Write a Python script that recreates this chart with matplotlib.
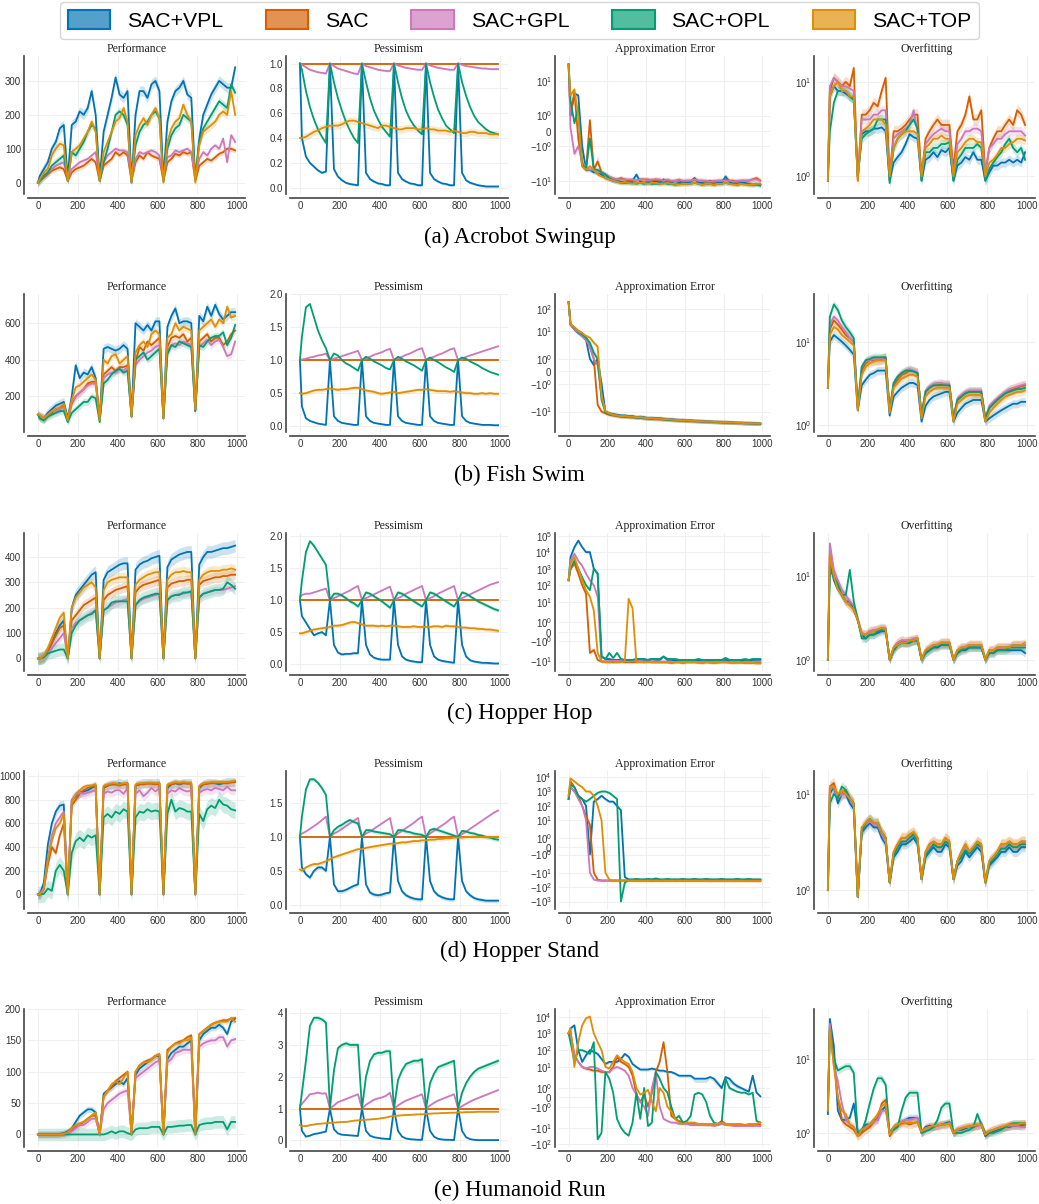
import matplotlib
matplotlib.use('Agg')
import matplotlib.pyplot as plt
import numpy as np
from matplotlib.patches import Patch
from matplotlib.ticker import NullFormatter

plt.rcParams['font.family'] = ['Liberation Sans', 'DejaVu Sans']
plt.rcParams['mathtext.fontset'] = 'custom'
plt.rcParams['mathtext.rm'] = 'Liberation Sans'
plt.rcParams['mathtext.it'] = 'Liberation Sans:italic'
plt.rcParams['mathtext.bf'] = 'Liberation Sans:bold'

methods = ['SAC+VPL', 'SAC', 'SAC+GPL', 'SAC+OPL', 'SAC+TOP']
colors = ['#0173b2', '#d55e00', '#cc78bc', '#029e73', '#de8f05']
titles = ['Performance', 'Pessimism', 'Approximation Error', 'Overfitting']
captions = ['(a) Acrobot Swingup', '(b) Fish Swim', '(c) Hopper Hop', '(d) Hopper Stand', '(e) Humanoid Run']

steps = [0, 10, 30, 50, 70, 90, 110, 130,
         150, 170, 190, 210, 230, 250, 270, 290,
         310, 330, 350, 370, 390, 410, 430, 450,
         470, 490, 510, 530, 550, 570, 590, 610,
         630, 650, 670, 690, 710, 730, 750, 770,
         790, 810, 830, 850, 870, 890, 910, 930, 950, 970, 990]

sac_pess = [1, 1, 1, 1, 1, 1, 1, 1, 1, 1, 1, 1, 1, 1, 1, 1, 1, 1, 1, 1, 1, 1, 1, 1, 1, 1,
            1, 1, 1, 1, 1, 1, 1, 1, 1, 1, 1, 1, 1, 1, 1, 1, 1, 1, 1, 1, 1, 1, 1, 1, 1]

# ---------------- (a) Acrobot Swingup ----------------
perf_a = [
    [0, 20, 40, 60, 100, 120, 160, 170, 10, 170, 180, 210, 200, 220, 270, 200,
     10, 150, 200, 250, 310, 260, 250, 270, 0, 200, 270, 270, 250, 290, 300, 270,
     10, 180, 240, 270, 280, 300, 260, 250, 10, 130, 200, 230, 260, 280, 300, 290, 280, 280, 340],
    [0, 5, 15, 25, 35, 40, 45, 40, 5, 30, 40, 45, 50, 60, 70, 60,
     5, 50, 60, 70, 90, 80, 90, 80, 5, 60, 80, 70, 90, 80, 75, 70,
     5, 60, 70, 85, 80, 90, 85, 90, 5, 50, 60, 70, 65, 75, 85, 90, 100, 100, 95],
    [0, 5, 20, 30, 40, 50, 55, 60, 10, 40, 50, 60, 65, 70, 80, 90,
     10, 60, 80, 90, 100, 95, 95, 90, 10, 70, 90, 85, 90, 95, 90, 80,
     10, 75, 80, 95, 90, 95, 100, 90, 15, 70, 90, 80, 100, 110, 100, 130, 60, 140, 120],
    [0, 5, 20, 30, 50, 60, 70, 80, 5, 90, 80, 100, 120, 150, 170, 160,
     5, 60, 100, 150, 200, 210, 200, 170, 5, 110, 150, 170, 180, 200, 210, 190,
     5, 100, 140, 160, 170, 200, 190, 180, 10, 120, 160, 180, 200, 220, 240, 230, 220, 290, 265],
    [0, 10, 30, 40, 80, 100, 115, 110, 5, 90, 100, 110, 130, 150, 180, 150,
     5, 90, 120, 150, 180, 190, 220, 180, 0, 140, 170, 190, 170, 200, 220, 190,
     0, 120, 160, 180, 190, 230, 200, 180, 0, 110, 150, 160, 170, 180, 200, 210, 200, 270, 200],
]
pess_a = [
    [1.0, 0.4, 0.25, 0.2, 0.17, 0.14, 0.12, 0.13, 1.0, 0.15, 0.09, 0.06, 0.04, 0.03, 0.025, 0.02,
     1.0, 0.12, 0.07, 0.05, 0.035, 0.03, 0.02, 0.02, 1.0, 0.12, 0.07, 0.05, 0.035, 0.03, 0.02, 0.02,
     1.0, 0.12, 0.07, 0.05, 0.035, 0.03, 0.02, 0.02, 1.0, 0.12, 0.06, 0.04, 0.03, 0.02, 0.015, 0.01, 0.01, 0.01, 0.01],
    sac_pess,
    [1.0, 0.99, 0.97, 0.95, 0.94, 0.93, 0.925, 0.92, 1.0, 0.98, 0.96, 0.95, 0.94, 0.93, 0.92, 0.915,
     1.0, 0.98, 0.97, 0.96, 0.95, 0.945, 0.94, 0.94, 1.0, 0.985, 0.975, 0.965, 0.96, 0.955, 0.95, 0.95,
     1.0, 0.985, 0.975, 0.965, 0.96, 0.955, 0.95, 0.95, 1.0, 0.99, 0.98, 0.975, 0.97, 0.965, 0.96, 0.96, 0.955, 0.955, 0.955],
    [1.0, 0.95, 0.78, 0.65, 0.55, 0.47, 0.41, 0.36, 1.0, 0.85, 0.72, 0.62, 0.53, 0.46, 0.4, 0.36,
     1.0, 0.85, 0.72, 0.62, 0.55, 0.49, 0.45, 0.41, 1.0, 0.85, 0.72, 0.62, 0.55, 0.5, 0.46, 0.43,
     1.0, 0.85, 0.73, 0.63, 0.56, 0.5, 0.47, 0.44, 1.0, 0.85, 0.74, 0.65, 0.58, 0.53, 0.5, 0.47, 0.45, 0.44, 0.43],
    [0.4, 0.4, 0.41, 0.43, 0.45, 0.46, 0.48, 0.49, 0.5, 0.5, 0.5, 0.51, 0.53, 0.54, 0.54, 0.53,
     0.52, 0.51, 0.5, 0.49, 0.48, 0.5, 0.5, 0.49, 0.48, 0.47, 0.47, 0.48, 0.48, 0.48, 0.47, 0.47,
     0.48, 0.47, 0.47, 0.46, 0.46, 0.46, 0.45, 0.46, 0.45, 0.44, 0.44, 0.45, 0.45, 0.44, 0.44, 0.44, 0.43, 0.43, 0.43],
]
err_a = [
    [40, 1, 3.5, 3, -1, -4, -4, -5, -5, -6, -8, -9, -10, -10, -11, -11,
     -11, -10, -6, -11, -12, -11, -12, -10, -12, -9, -12, -12, -13, -12, -12, -12,
     -11, -8, -12, -12, -13, -12, -13, -12, -12, -7, -11, -12, -13, -12, -12, -13, -14, -13, -14],
    [40, 1, 4, -0.5, -3, -4, 0.7, -4, -2, -5, -6, -8, -9, -9, -8, -9,
     -10, -10, -10, -9, -9, -9, -10, -9, -10, -10, -10, -11, -10, -10, -11, -10,
     -10, -9, -10, -10, -11, -10, -11, -10, -10, -9, -10, -10, -11, -10, -10, -10, -9, -8, -10],
    [40, 0.2, -1.5, -1, -2, -3.5, -4, -4, -5, -5, -6, -7, -8, -9, -9, -9,
     -9, -9, -10, -9, -9, -10, -9, -9, -9, -10, -9, -10, -10, -9, -10, -10,
     -10, -9, -10, -10, -10, -11, -10, -10, -10, -10, -10, -11, -10, -10, -10, -10, -9, -9, -10],
    [40, 2, 0.5, 1.5, -2.5, -4, -0.5, -4, -4, -5, -6, -8, -10, -11, -12, -12,
     -12, -12, -13, -12, -13, -12, -13, -13, -13, -12, -13, -13, -14, -13, -13, -13,
     -13, -12, -13, -14, -13, -13, -14, -13, -13, -12, -13, -13, -14, -13, -13, -14, -14, -14, -15],
    [40, 3, 5, 1, -3, -4, -3, -4, -6, -7, -8, -9, -10, -11, -12, -11,
     -12, -13, -12, -12, -12, -13, -12, -12, -13, -13, -12, -13, -13, -14, -13, -13,
     -13, -12, -13, -14, -13, -13, -14, -13, -13, -12, -13, -14, -14, -13, -14, -14, -14, -13, -13],
]
over_a = [
    [0.9, 7, 9, 8, 8, 7.5, 7, 6.5, 1, 2.8, 3, 3, 3.2, 3.2, 3.3, 3,
     0.9, 1.4, 1.6, 1.8, 2.2, 2.8, 2.6, 2.5, 0.9, 1.5, 1.6, 1.8, 1.6, 1.9, 1.8, 2,
     0.9, 1.3, 1.4, 1.6, 1.5, 1.8, 1.5, 1.5, 0.9, 1.1, 1.3, 1.3, 1.4, 1.4, 1.5, 1.4, 1.5, 1.4, 1.8],
    [0.9, 8, 11, 10, 9, 10, 9, 14, 0.9, 4.5, 4.5, 5, 6, 5.5, 8, 11,
     1, 3, 3, 3.2, 3.5, 4, 4.5, 4.5, 1, 2.5, 3, 3.5, 4, 3.5, 3.5, 3.5,
     1.2, 3, 3.5, 4.5, 7, 4, 4, 5, 1.1, 2, 2.5, 3, 3, 3.5, 4, 3.5, 5, 4.5, 3.5],
    [0.9, 9, 11, 10, 9, 9, 8.5, 8, 1, 4, 4, 4, 4.5, 4.5, 5, 5,
     1, 2.5, 2.8, 3, 3.2, 3.5, 5, 3, 1, 2.2, 2.5, 2.8, 3, 3.2, 3, 3,
     1, 2.2, 2.5, 3, 3, 3.2, 3.2, 3, 1.1, 2, 2.2, 2.5, 2.5, 2.8, 3, 3, 3, 3, 2.7],
    [0.9, 3, 6, 8, 8, 8, 7, 6.5, 1, 2.5, 2.8, 3, 3.2, 4, 4, 4,
     0.85, 2, 2.5, 2.8, 3, 3.5, 4, 3.2, 0.9, 1.8, 1.8, 2, 2, 2.2, 2.2, 2.3,
     0.9, 1.5, 1.7, 2, 2, 2, 2.2, 2, 0.9, 1.2, 1.4, 1.6, 1.8, 2.2, 2.5, 2, 1.8, 2, 1.5],
    [0.9, 7, 9, 10, 8, 8, 7, 7, 0.9, 3, 3.2, 3.5, 4, 4, 4, 3.5,
     1, 2, 2.5, 2.8, 3, 3, 3, 2.8, 1, 2, 2.2, 2.5, 2.5, 2.7, 2.5, 2.5,
     1, 1.8, 2, 2.3, 2.5, 2.5, 2.3, 2.3, 1, 1.4, 1.5, 1.7, 2, 2, 2.2, 2.3, 2.5, 2.5, 2.4],
]

# ---------------- (b) Fish Swim ----------------
perf_b = [
    [100, 90, 80, 110, 130, 150, 160, 170, 80, 200, 370, 300, 330, 320, 360, 300,
     80, 460, 470, 460, 450, 460, 480, 460, 100, 600, 580, 560, 590, 560, 610, 610,
     90, 580, 640, 680, 600, 610, 610, 600, 120, 640, 610, 690, 640, 700, 650, 620, 640, 660, 660],
    [100, 90, 80, 100, 110, 130, 130, 150, 70, 160, 200, 220, 240, 270, 280, 280,
     70, 320, 340, 360, 340, 360, 360, 370, 90, 390, 470, 450, 500, 480, 500, 520,
     80, 470, 520, 530, 520, 540, 500, 520, 130, 500, 520, 540, 500, 520, 520, 480, 500, 540, 560],
    [100, 90, 80, 100, 120, 120, 130, 140, 70, 170, 200, 220, 240, 260, 270, 270,
     70, 300, 320, 330, 330, 350, 340, 360, 90, 370, 400, 420, 440, 450, 470, 480,
     80, 450, 480, 490, 480, 500, 490, 480, 120, 470, 490, 510, 480, 500, 510, 470, 420, 430, 500],
    [100, 80, 70, 90, 100, 110, 120, 120, 60, 110, 130, 150, 170, 170, 200, 190,
     60, 270, 290, 320, 340, 350, 330, 340, 90, 400, 420, 440, 400, 420, 440, 460,
     80, 430, 480, 470, 500, 490, 480, 470, 120, 480, 470, 500, 520, 530, 530, 550, 480, 520, 590],
    [100, 100, 80, 100, 120, 130, 140, 160, 70, 180, 250, 260, 280, 300, 320, 290,
     70, 400, 380, 420, 430, 380, 400, 420, 90, 440, 480, 500, 470, 540, 560, 540,
     80, 520, 540, 600, 560, 580, 570, 560, 130, 560, 580, 600, 620, 580, 620, 600, 690, 630, 640],
]
pess_b = [
    [1.0, 0.3, 0.12, 0.08, 0.06, 0.04, 0.03, 0.02, 1.0, 0.15, 0.08, 0.05, 0.04, 0.03, 0.02, 0.02,
     1.0, 0.15, 0.08, 0.05, 0.04, 0.03, 0.02, 0.02, 1.0, 0.15, 0.08, 0.05, 0.04, 0.03, 0.02, 0.02,
     1.0, 0.15, 0.08, 0.05, 0.04, 0.03, 0.02, 0.02, 1.0, 0.15, 0.08, 0.05, 0.04, 0.03, 0.02, 0.02, 0.02, 0.015, 0.015],
    sac_pess,
    [1.0, 1.01, 1.02, 1.04, 1.05, 1.07, 1.08, 1.1, 1.0, 1.02, 1.04, 1.06, 1.08, 1.1, 1.12, 1.14,
     1.0, 1.03, 1.05, 1.08, 1.1, 1.12, 1.15, 1.17, 1.0, 1.03, 1.05, 1.08, 1.1, 1.13, 1.16, 1.18,
     1.0, 1.03, 1.05, 1.08, 1.1, 1.13, 1.16, 1.18, 1.0, 1.02, 1.05, 1.07, 1.09, 1.11, 1.13, 1.15, 1.17, 1.19, 1.21],
    [1.0, 1.35, 1.8, 1.85, 1.65, 1.45, 1.3, 1.18, 1.0, 1.1, 1.07, 1.0, 0.95, 0.92, 0.88, 0.84,
     1.0, 1.05, 1.02, 0.98, 0.95, 0.92, 0.88, 0.86, 1.0, 1.05, 1.02, 0.98, 0.95, 0.92, 0.88, 0.84,
     1.0, 1.04, 1.0, 0.97, 0.93, 0.89, 0.86, 0.82, 1.0, 1.04, 1.02, 0.98, 0.95, 0.92, 0.88, 0.85, 0.82, 0.8, 0.78],
    [0.5, 0.49, 0.5, 0.52, 0.54, 0.55, 0.55, 0.56, 0.57, 0.56, 0.55, 0.56, 0.56, 0.57, 0.58, 0.58,
     0.56, 0.54, 0.53, 0.52, 0.5, 0.49, 0.5, 0.51, 0.52, 0.5, 0.51, 0.52, 0.53, 0.54, 0.55, 0.55,
     0.56, 0.55, 0.54, 0.53, 0.53, 0.53, 0.52, 0.53, 0.52, 0.51, 0.5, 0.5, 0.49, 0.49, 0.5, 0.49, 0.5, 0.49, 0.49],
]
err_b = [
    [200, 20, 12, 8, 6, 4, 1, 0.5, 1, -1, -10, -12, -13, -14, -15, -15,
     -16, -16, -18, -17, -18, -20, -19, -20, -20, -21, -22, -22, -23, -24, -24, -25,
     -25, -26, -26, -27, -28, -28, -29, -29, -30, -30, -31, -31, -32, -32, -33, -33, -34, -34, -35],
    [200, 20, 12, 10, 8, 4, 2, 1, -5, -10, -12, -14, -15, -16, -17, -17,
     -18, -18, -19, -19, -20, -21, -21, -22, -22, -23, -23, -24, -25, -25, -26, -26,
     -27, -27, -28, -28, -29, -29, -30, -30, -31, -31, -32, -32, -33, -33, -34, -34, -35, -35, -36],
    [200, 18, 12, 9, 6, 4, 2, 1, 0.5, -2, -10, -12, -14, -15, -16, -16,
     -17, -17, -18, -18, -19, -20, -20, -21, -21, -22, -22, -23, -24, -24, -25, -25,
     -26, -26, -27, -27, -28, -28, -29, -29, -30, -30, -31, -31, -32, -32, -33, -33, -34, -34, -35],
    [200, 20, 14, 10, 7, 5, 3, 1.5, 1, -3, -11, -13, -14, -15, -16, -17,
     -17, -18, -18, -19, -20, -20, -21, -21, -22, -22, -23, -24, -24, -25, -25, -26,
     -26, -27, -27, -28, -28, -29, -29, -30, -30, -31, -31, -32, -32, -33, -33, -34, -34, -35, -35],
    [200, 20, 15, 10, 8, 6, 5, 3, 2, -2, -10, -12, -14, -15, -16, -16,
     -17, -17, -18, -18, -19, -20, -20, -21, -21, -22, -22, -23, -24, -24, -25, -25,
     -26, -26, -27, -27, -28, -28, -29, -29, -30, -30, -31, -31, -32, -32, -33, -33, -34, -34, -35],
]
over_b = [
    [2.8, 10, 12, 11, 10, 9, 8, 7, 1.5, 3, 3.5, 4, 4.2, 4.5, 4.5, 4.5,
     1.3, 2.2, 2.5, 2.8, 3, 3.2, 3.2, 3, 1.1, 1.7, 2, 2.2, 2.3, 2.4, 2.5, 2.5,
     1.1, 1.4, 1.6, 1.8, 1.9, 2, 2, 2, 1.1, 1.2, 1.3, 1.4, 1.5, 1.6, 1.7, 1.8, 1.8, 1.9, 1.9],
    [2.8, 14, 18, 16, 14, 12, 11, 10, 1.6, 4.5, 5.5, 6, 6, 6, 6.2, 6.5,
     1.5, 3, 3.5, 4, 4.2, 4.5, 4.4, 4.2, 1.3, 2.5, 2.8, 3, 3, 3.1, 3, 3,
     1.2, 2, 2.2, 2.4, 2.5, 2.5, 2.5, 2.5, 1.2, 1.6, 1.8, 2, 2.2, 2.4, 2.6, 2.7, 2.8, 2.9, 3],
    [2.8, 16, 20, 18, 15, 13, 11, 10, 1.6, 5, 5.8, 6, 6.2, 6.2, 6.3, 6.5,
     1.5, 3.2, 3.8, 4.2, 4.5, 4.7, 4.5, 4.3, 1.3, 2.6, 2.9, 3.1, 3.2, 3.2, 3.1, 3.1,
     1.2, 2.1, 2.3, 2.5, 2.6, 2.6, 2.6, 2.6, 1.2, 1.7, 1.9, 2.1, 2.3, 2.5, 2.7, 2.8, 2.9, 3, 3.1],
    [2.8, 20, 28, 24, 18, 15, 13, 11, 1.6, 5, 6, 6.2, 6.5, 6.5, 6.5, 6.5,
     1.5, 3.2, 3.8, 4.2, 4.5, 4.5, 4.4, 4.2, 1.3, 2.5, 2.8, 3, 3, 3, 3, 3,
     1.2, 2, 2.2, 2.4, 2.5, 2.5, 2.5, 2.5, 1.2, 1.6, 1.8, 2, 2.2, 2.4, 2.5, 2.6, 2.7, 2.7, 2.8],
    [2.8, 12, 15, 14, 12, 11, 10, 9, 1.5, 4, 5, 5.5, 5.8, 6, 6, 6,
     1.4, 2.8, 3.2, 3.6, 3.8, 4, 4, 3.8, 1.2, 2.2, 2.5, 2.7, 2.8, 2.8, 2.8, 2.8,
     1.1, 1.8, 2, 2.2, 2.3, 2.3, 2.3, 2.3, 1.1, 1.4, 1.6, 1.8, 2, 2.2, 2.3, 2.4, 2.5, 2.5, 2.6],
]

# ---------------- (c) Hopper Hop ----------------
perf_c = [
    [0, 0, 5, 30, 60, 100, 130, 150, 0, 200, 250, 270, 290, 310, 330, 340,
     0, 310, 340, 350, 360, 370, 375, 375, 0, 350, 370, 380, 385, 395, 400, 405,
     0, 360, 390, 400, 410, 415, 420, 420, 0, 370, 400, 420, 420, 425, 430, 435, 435, 440, 445],
    [0, 0, 5, 30, 60, 90, 120, 130, 0, 150, 170, 190, 210, 220, 230, 240,
     0, 230, 250, 260, 270, 275, 280, 285, 0, 260, 280, 290, 295, 300, 305, 310,
     0, 280, 295, 300, 305, 305, 310, 310, 0, 290, 305, 310, 315, 320, 320, 325, 325, 330, 330],
    [0, 0, 5, 20, 40, 60, 80, 100, 0, 120, 140, 150, 160, 170, 180, 190,
     0, 190, 200, 210, 220, 225, 230, 235, 0, 210, 225, 235, 240, 245, 250, 255,
     0, 230, 245, 250, 255, 255, 260, 260, 0, 240, 255, 260, 265, 270, 270, 270, 275, 280, 285],
    [0, 0, 5, 20, 25, 30, 35, 35, 0, 100, 130, 150, 160, 170, 175, 190,
     0, 190, 200, 220, 225, 225, 225, 225, 0, 210, 230, 240, 245, 250, 255, 255,
     0, 230, 245, 250, 250, 260, 260, 265, 0, 240, 255, 260, 265, 270, 270, 275, 300, 290, 275],
    [0, 0, 10, 40, 80, 120, 160, 180, 0, 200, 240, 260, 280, 290, 300, 280,
     0, 270, 300, 310, 315, 320, 320, 320, 0, 290, 310, 320, 330, 335, 340, 340,
     0, 310, 330, 340, 340, 345, 340, 340, 0, 310, 330, 340, 345, 345, 345, 350, 350, 355, 350],
]
pess_c = [
    [1.0, 0.75, 0.65, 0.55, 0.45, 0.48, 0.5, 0.45, 1.0, 0.3, 0.18, 0.15, 0.16, 0.16, 0.17, 0.17,
     1.0, 0.3, 0.15, 0.1, 0.08, 0.07, 0.07, 0.07, 1.0, 0.3, 0.12, 0.07, 0.05, 0.04, 0.03, 0.03,
     1.0, 0.3, 0.12, 0.07, 0.05, 0.04, 0.03, 0.02, 1.0, 0.3, 0.12, 0.06, 0.04, 0.03, 0.02, 0.02, 0.015, 0.01, 0.01],
    sac_pess,
    [1.05, 1.08, 1.1, 1.1, 1.12, 1.14, 1.16, 1.18, 1.0, 1.03, 1.06, 1.09, 1.12, 1.15, 1.19, 1.22,
     1.0, 1.03, 1.06, 1.09, 1.12, 1.15, 1.18, 1.21, 1.0, 1.03, 1.06, 1.1, 1.13, 1.16, 1.19, 1.22,
     1.0, 1.03, 1.06, 1.1, 1.13, 1.16, 1.19, 1.22, 1.0, 1.03, 1.06, 1.09, 1.12, 1.15, 1.18, 1.21, 1.24, 1.26, 1.28],
    [1.0, 1.3, 1.75, 1.92, 1.85, 1.75, 1.65, 1.55, 1.0, 1.1, 1.1, 1.07, 1.03, 0.98, 0.95, 0.9,
     1.0, 1.12, 1.1, 1.06, 1.02, 0.98, 0.93, 0.88, 1.0, 1.12, 1.1, 1.06, 1.02, 0.98, 0.94, 0.9,
     1.0, 1.12, 1.1, 1.06, 1.02, 0.98, 0.94, 0.9, 1.0, 1.12, 1.1, 1.06, 1.02, 0.98, 0.95, 0.92, 0.89, 0.86, 0.84],
    [0.48, 0.48, 0.5, 0.52, 0.54, 0.55, 0.56, 0.57, 0.58, 0.6, 0.6, 0.61, 0.63, 0.65, 0.66, 0.64,
     0.62, 0.6, 0.6, 0.6, 0.59, 0.6, 0.59, 0.6, 0.6, 0.59, 0.58, 0.58, 0.58, 0.59, 0.58, 0.58,
     0.58, 0.58, 0.59, 0.59, 0.58, 0.6, 0.59, 0.59, 0.58, 0.57, 0.57, 0.56, 0.56, 0.55, 0.55, 0.54, 0.54, 0.53, 0.52],
]
err_c = [
    [200, 5000, 20000, 50000, 20000, 10000, 10000, 1000, 500, -5, -7, -7, -8, -8, -8, -8,
     -8, -8, -8, -7, -8, -8, -7, -8, -8, -5, -8, -8, -9, -9, -9, -9,
     -9, -9, -8, -9, -9, -9, -9, -9, -9, -8, -9, -9, -9, -9, -8, -9, -8, -8, -8],
    [200, 1000, 2000, 500, 100, 30, -3, -2, -8, -10, -10, -11, -11, -11, -10, -11,
     -11, -11, -11, -10, -11, -10, -11, -11, -11, -11, -11, -12, -11, -11, -12, -11,
     -11, -11, -11, -12, -11, -11, -12, -11, -11, -11, -11, -12, -11, -11, -12, -12, -12, -12, -12],
    [200, 3000, 8000, 3000, 1500, 500, 200, 100, 20, -10, -10, -9, -9, -9, -9, -9,
     -10, -9, -9, -10, -10, -9, -10, -10, -10, -10, -10, -10, -11, -10, -10, -10,
     -10, -10, -11, -10, -10, -11, -10, -10, -10, -10, -11, -10, -10, -11, -10, -10, -11, -10, -10],
    [200, 1000, 3000, 1000, 300, 100, 50, 1000, 500, -5, -7, -3, -6, -3, -7, -8,
     -8, -8, -7, -7, -7, -8, -7, -7, -7, -5, -7, -7, -7, -8, -8, -8,
     -8, -8, -7, -8, -8, -8, -8, -8, -8, -6, -8, -8, -8, -8, -7, -8, -7, -7, -7],
    [200, 2000, 5000, 1000, 200, 50, 20, 3, -3, -10, -11, -11, -10, -11, -11, -10,
     15, 4, -11, -11, -11, -11, -11, -11, -11, -11, -11, -12, -11, -11, -12, -11,
     -11, -11, -12, -12, -11, -12, -12, -12, -11, -11, -12, -12, -12, -12, -12, -12, -12, -13, -13],
]
over_c = [
    [1, 15, 9, 7, 6, 5, 5, 4, 3, 2, 1.8, 2, 2, 2.1, 2.2, 2.2,
     1, 1.3, 1.5, 1.6, 1.6, 1.6, 1.7, 1.7, 1, 1.2, 1.3, 1.4, 1.4, 1.5, 1.5, 1.5,
     1, 1.2, 1.3, 1.3, 1.4, 1.4, 1.4, 1.4, 1, 1.2, 1.2, 1.3, 1.3, 1.3, 1.3, 1.3, 1.3, 1.3, 1.2],
    [1, 20, 10, 8, 6, 5, 4.5, 4, 3, 2, 2, 2.2, 2.2, 2.3, 2.4, 2.3,
     1, 1.4, 1.6, 1.7, 1.6, 1.7, 1.7, 1.8, 1, 1.3, 1.4, 1.5, 1.5, 1.6, 1.6, 1.6,
     1, 1.3, 1.4, 1.4, 1.5, 1.5, 1.5, 1.5, 1, 1.3, 1.3, 1.4, 1.4, 1.4, 1.4, 1.5, 1.5, 1.5, 1.5],
    [1, 25, 12, 9, 7, 6, 5, 4.5, 3, 2.1, 2, 2.2, 2.3, 2.3, 2.4, 2.4,
     1, 1.4, 1.6, 1.7, 1.7, 1.7, 1.8, 1.8, 1, 1.3, 1.4, 1.5, 1.5, 1.6, 1.6, 1.6,
     1, 1.3, 1.4, 1.4, 1.5, 1.5, 1.5, 1.5, 1, 1.3, 1.3, 1.4, 1.4, 1.4, 1.4, 1.5, 1.5, 1.5, 1.5],
    [1, 12, 10, 8, 6, 6, 12, 5, 3, 1.8, 1.8, 2, 2, 2.2, 2.3, 2.3,
     1, 1.3, 1.5, 1.6, 1.6, 1.6, 1.7, 1.7, 1, 1.2, 1.3, 1.4, 1.5, 1.5, 1.5, 1.5,
     1, 1.2, 1.3, 1.4, 1.4, 1.4, 1.4, 1.4, 1, 1.2, 1.2, 1.3, 1.3, 1.3, 1.4, 1.4, 1.4, 1.4, 1.4],
    [1, 18, 10, 7, 6, 5, 4.5, 4, 3, 2, 2, 2.1, 2.2, 2.3, 2.4, 2.3,
     1, 1.4, 1.5, 1.6, 1.6, 1.7, 1.7, 1.8, 1, 1.3, 1.4, 1.5, 1.5, 1.6, 1.6, 1.6,
     1, 1.3, 1.4, 1.4, 1.5, 1.5, 1.5, 1.5, 1, 1.3, 1.3, 1.4, 1.4, 1.4, 1.4, 1.5, 1.5, 1.5, 1.6],
]

# ---------------- (d) Hopper Stand ----------------
perf_d = [
    [0, 0, 100, 420, 600, 700, 750, 760, 0, 800, 830, 860, 870, 880, 900, 920,
     0, 900, 920, 930, 930, 940, 930, 940, 0, 920, 930, 940, 940, 940, 940, 940,
     0, 900, 930, 940, 930, 940, 940, 940, 0, 900, 930, 940, 940, 940, 930, 940, 950, 950, 950],
    [0, 0, 50, 250, 400, 350, 500, 600, 0, 750, 800, 850, 880, 900, 910, 920,
     0, 910, 920, 930, 930, 920, 930, 930, 0, 920, 930, 930, 935, 935, 930, 935,
     0, 920, 930, 940, 935, 940, 935, 935, 0, 910, 930, 935, 940, 940, 940, 940, 940, 945, 950],
    [0, 0, 50, 300, 500, 600, 650, 700, 0, 800, 840, 860, 850, 860, 870, 880,
     0, 850, 870, 860, 880, 880, 850, 900, 0, 850, 880, 830, 860, 900, 870, 900,
     0, 850, 880, 870, 900, 880, 870, 880, 0, 860, 880, 890, 880, 900, 890, 880, 910, 880, 880],
    [0, 0, 5, 50, 30, 200, 250, 200, 0, 350, 450, 480, 450, 500, 480, 500,
     0, 650, 680, 650, 700, 680, 720, 700, 0, 650, 700, 690, 720, 700, 710, 700,
     0, 680, 800, 700, 730, 720, 700, 700, 0, 680, 620, 720, 750, 730, 800, 760, 750, 720, 710],
    [0, 0, 50, 300, 450, 560, 600, 680, 0, 780, 850, 880, 910, 920, 920, 930,
     0, 920, 930, 940, 940, 930, 940, 940, 0, 930, 940, 940, 945, 945, 940, 945,
     0, 930, 940, 950, 945, 950, 945, 945, 0, 920, 940, 945, 950, 950, 950, 950, 950, 955, 960],
]
pess_d = [
    [1.0, 0.55, 0.45, 0.4, 0.5, 0.55, 0.55, 0.5, 1.0, 0.3, 0.2, 0.2, 0.22, 0.25, 0.28, 0.3,
     1.0, 0.3, 0.18, 0.15, 0.14, 0.15, 0.17, 0.18, 1.0, 0.35, 0.2, 0.14, 0.11, 0.09, 0.08, 0.08,
     1.0, 0.35, 0.2, 0.14, 0.11, 0.09, 0.08, 0.08, 1.0, 0.35, 0.2, 0.14, 0.1, 0.08, 0.07, 0.06, 0.06, 0.06, 0.06],
    sac_pess,
    [1.02, 1.05, 1.08, 1.12, 1.16, 1.2, 1.25, 1.3, 1.0, 1.05, 1.08, 1.12, 1.16, 1.2, 1.24, 1.28,
     1.0, 1.05, 1.08, 1.12, 1.16, 1.2, 1.24, 1.28, 1.0, 1.05, 1.09, 1.13, 1.17, 1.21, 1.26, 1.3,
     1.0, 1.05, 1.09, 1.13, 1.17, 1.21, 1.26, 1.3, 1.0, 1.04, 1.08, 1.12, 1.16, 1.2, 1.24, 1.28, 1.32, 1.36, 1.39],
    [1.0, 1.3, 1.7, 1.85, 1.85, 1.8, 1.72, 1.62, 1.0, 1.1, 1.15, 1.18, 1.22, 1.25, 1.22, 1.2,
     1.0, 1.1, 1.1, 1.08, 1.07, 1.06, 1.05, 1.04, 1.0, 1.1, 1.1, 1.08, 1.07, 1.05, 1.04, 1.03,
     1.0, 1.1, 1.12, 1.1, 1.08, 1.06, 1.04, 1.02, 1.0, 1.09, 1.08, 1.06, 1.05, 1.03, 1.02, 1.0, 0.99, 0.97, 0.96],
    [0.52, 0.5, 0.55, 0.58, 0.6, 0.6, 0.62, 0.64, 0.67, 0.7, 0.72, 0.74, 0.76, 0.78, 0.8, 0.82,
     0.82, 0.84, 0.85, 0.86, 0.87, 0.88, 0.89, 0.9, 0.9, 0.91, 0.92, 0.92, 0.93, 0.94, 0.94, 0.95,
     0.95, 0.96, 0.96, 0.97, 0.97, 0.98, 0.98, 0.99, 0.99, 0.99, 1.0, 1.0, 1.0, 1.0, 1.0, 1.0, 1.0, 1.0, 1.0],
]
err_d = [
    [300, 2000, 1000, 500, 300, 100, -1, 200, 300, 500, 300, 200, 200, 100, 50, -20,
     -30, -30, -28, -30, -30, -28, -30, -25, -30, -30, -28, -30, -30, -30, -28, -30,
     -30, -28, -30, -30, -28, -30, -30, -30, -28, -30, -30, -30, -28, -30, -30, -28, -30, -30, -30],
    [500, 5000, 2000, 500, 100, 20, 5, -10, -30, -35, -35, -35, -35, -35, -35, -35,
     -35, -35, -35, -36, -35, -35, -36, -35, -35, -36, -35, -35, -36, -35, -36, -35,
     -35, -36, -35, -36, -35, -36, -35, -36, -35, -36, -35, -36, -36, -35, -36, -36, -36, -36, -36],
    [300, 2000, 1000, 300, 100, 10, -10, -30, -35, -35, -35, -35, -35, -35, -35, -35,
     -35, -35, -35, -35, -35, -35, -35, -35, -35, -35, -35, -35, -35, -35, -35, -35,
     -35, -35, -35, -35, -35, -35, -35, -35, -35, -35, -35, -35, -35, -35, -35, -35, -35, -35, -35],
    [300, 3000, 2000, 500, 300, 200, 300, 500, 800, 1000, 1000, 800, 500, 300, -1000, -50,
     -30, -30, -28, -30, -30, -28, -30, -28, -30, -30, -28, -30, -30, -30, -28, -30,
     -30, -28, -30, -30, -28, -30, -30, -30, -28, -30, -30, -30, -28, -30, -30, -28, -30, -30, -30],
    [500, 8000, 5000, 3000, 2000, 1000, 1000, 500, 100, 10, -10, -30, -35, -35, -35, -35,
     -35, -35, -36, -35, -36, -35, -36, -35, -36, -35, -36, -35, -36, -35, -36, -35,
     -36, -35, -36, -35, -36, -36, -36, -36, -36, -36, -36, -36, -36, -36, -36, -36, -36, -36, -36],
]
over_d = [
    [1, 10, 12, 8, 10, 10, 8, 7, 0.85, 4, 4.5, 5, 4.5, 4.5, 3.5, 3,
     1.2, 2.2, 2.5, 3, 3, 3.2, 3.5, 3, 1.3, 2.2, 2.5, 2.8, 2.5, 2.5, 3, 2.8,
     1.3, 1.8, 2, 2.5, 2.2, 2.5, 2.8, 2.5, 1.2, 1.8, 2, 2.2, 2.5, 2.5, 2.8, 2.5, 2.5, 2.8, 2.8],
    [1, 12, 13, 9, 10, 11, 9, 8, 0.85, 4.5, 5, 5.5, 5, 5, 4, 3.5,
     1.2, 2.5, 3, 3.5, 3.5, 3.8, 4, 3.5, 1.3, 2.5, 3, 3.2, 3, 3, 3.5, 3.2,
     1.3, 2, 2.5, 3, 2.5, 2.8, 3.2, 3, 1.2, 2, 2.2, 2.5, 3, 3, 3.2, 3, 3, 3.2, 3.2],
    [1, 11, 12, 9, 10, 10, 9, 7.5, 0.85, 4.2, 4.8, 5.2, 4.8, 4.8, 3.8, 3.2,
     1.2, 2.4, 2.8, 3.2, 3.2, 3.5, 3.8, 3.2, 1.3, 2.4, 2.8, 3, 2.8, 2.8, 3.2, 3,
     1.3, 2, 2.2, 2.8, 2.4, 2.7, 3, 2.8, 1.2, 2, 2.2, 2.4, 2.8, 2.8, 3, 2.8, 2.8, 3, 3],
    [1, 8, 10, 9, 12, 11, 9, 8, 0.85, 4, 5, 5.5, 5, 5, 4, 3.5,
     1.2, 2.3, 2.8, 3.2, 3.2, 3.5, 3.8, 3.2, 1.3, 2.3, 2.6, 3, 2.8, 2.8, 3.2, 3,
     1.3, 2, 2.2, 2.6, 2.4, 2.7, 3, 2.8, 1.2, 1.9, 2.1, 2.4, 2.7, 2.7, 3, 2.8, 2.8, 3, 3],
    [1, 12, 12, 10, 11, 10, 9, 8, 0.85, 4.5, 5, 5.5, 5, 5, 4, 3.5,
     1.2, 2.5, 3, 3.5, 3.5, 3.8, 4, 3.5, 1.3, 2.5, 3, 3.2, 3, 3, 3.5, 3.2,
     1.3, 2, 2.5, 3, 2.5, 2.8, 3.2, 3, 1.2, 2, 2.2, 2.5, 3, 3, 3.2, 3, 3, 3.2, 3.2],
]

# ---------------- (e) Humanoid Run ----------------
perf_e = [
    [0, 0, 0, 0, 0, 0, 1, 2, 5, 10, 20, 30, 35, 40, 40, 35,
     0, 65, 70, 75, 80, 85, 80, 90, 0, 95, 105, 110, 115, 120, 125, 125,
     0, 120, 130, 135, 140, 140, 145, 150, 0, 150, 160, 165, 170, 170, 175, 170, 160, 180, 185],
    [0, 0, 0, 0, 0, 0, 0, 1, 3, 8, 12, 15, 20, 25, 30, 30,
     0, 60, 70, 75, 85, 90, 95, 100, 0, 100, 110, 115, 118, 120, 125, 128,
     0, 135, 140, 145, 148, 150, 155, 158, 0, 160, 165, 170, 175, 178, 180, 182, 182, 185, 185],
    [0, 0, 0, 0, 0, 0, 0, 0, 2, 5, 10, 15, 15, 20, 25, 25,
     0, 40, 50, 55, 60, 65, 68, 70, 0, 90, 95, 100, 105, 110, 115, 118,
     0, 115, 120, 130, 132, 135, 135, 135, 0, 140, 145, 148, 150, 150, 155, 155, 140, 150, 152],
    [0, 0, 0, 0, 0, 0, 0, 0, 0, 0, 0, 0, 0, 0, 0, 0,
     0, 0, 2, 5, 2, 5, 5, 2, 0, 8, 10, 10, 10, 12, 12, 12,
     0, 12, 12, 13, 14, 14, 15, 15, 0, 15, 17, 18, 18, 20, 20, 20, 8, 20, 20],
    [0, 0, 0, 0, 0, 0, 0, 1, 3, 10, 15, 18, 20, 25, 30, 35,
     0, 60, 70, 80, 85, 80, 90, 100, 0, 100, 110, 115, 115, 120, 125, 128,
     0, 130, 140, 145, 145, 150, 150, 155, 0, 160, 165, 170, 175, 178, 180, 180, 180, 185, 180],
]
pess_e = [
    [1.0, 0.3, 0.12, 0.15, 0.2, 0.22, 0.25, 0.28, 1.0, 0.35, 0.22, 0.18, 0.17, 0.16, 0.15, 0.14,
     1.0, 0.3, 0.15, 0.1, 0.08, 0.06, 0.05, 0.04, 1.0, 0.3, 0.12, 0.06, 0.04, 0.03, 0.02, 0.02,
     1.0, 0.3, 0.12, 0.05, 0.03, 0.02, 0.02, 0.01, 1.0, 0.3, 0.1, 0.04, 0.02, 0.01, 0.01, 0.01, 0.01, 0.01, 0.01],
    sac_pess,
    [1.1, 1.15, 1.3, 1.45, 1.47, 1.5, 1.47, 1.48, 1.0, 1.1, 1.2, 1.25, 1.3, 1.35, 1.4, 1.45,
     1.0, 1.12, 1.2, 1.28, 1.32, 1.35, 1.4, 1.5, 1.0, 1.1, 1.18, 1.25, 1.3, 1.35, 1.4, 1.45,
     1.0, 1.1, 1.18, 1.25, 1.3, 1.35, 1.4, 1.45, 1.0, 1.08, 1.15, 1.22, 1.28, 1.33, 1.38, 1.43, 1.48, 1.53, 1.58],
    [1.0, 1.5, 2.5, 3.6, 3.85, 3.85, 3.8, 3.7, 1.0, 2.2, 2.9, 3.0, 3.05, 3.0, 3.0, 3.0,
     1.0, 2.0, 2.5, 2.7, 2.75, 2.75, 2.8, 2.8, 1.0, 1.9, 2.2, 2.4, 2.45, 2.5, 2.5, 2.55,
     1.0, 1.8, 2.1, 2.3, 2.35, 2.4, 2.45, 2.5, 1.0, 1.5, 1.8, 2.0, 2.15, 2.25, 2.3, 2.35, 2.4, 2.45, 2.5],
    [0.48, 0.45, 0.45, 0.48, 0.5, 0.52, 0.53, 0.54, 0.55, 0.56, 0.57, 0.58, 0.58, 0.6, 0.62, 0.63,
     0.64, 0.65, 0.66, 0.67, 0.68, 0.7, 0.72, 0.75, 0.77, 0.78, 0.79, 0.8, 0.8, 0.81, 0.82, 0.82,
     0.83, 0.84, 0.85, 0.85, 0.86, 0.86, 0.87, 0.87, 0.88, 0.88, 0.89, 0.89, 0.89, 0.9, 0.9, 0.9, 0.9, 0.9, 0.9],
]
err_e = [
    [1000, 2000, 3000, 100, 20, 50, 100, 80, 60, 30, 15, 20, 20, 20, 30, 60,
     40, 15, 10, 7, 7, 7, 8, 7, 6, 6, 5, 5, 4, 3, 3, 3,
     3, 2, 2, 2, 2, 2.5, 2, 1.5, 1, 2.5, 2, 1.5, 1.2, 1, 0.8, 0.6, 3, 0.5, 0.1],
    [1000, 1000, 50, 20, 10, 8, 7, 6, 6, 5, 5, 5, 10, 40, 20, 15,
     10, 3, 0.3, -0.5, 0.3, -1, 0.5, 5, 20, 300, 5, -2, -3, -4, -5, -5,
     -6, -6, -6, -6, -7, -7, -7, -6, -4, -6, -7, -7, -7, -7, -7, -7, -7, -6, -7],
    [1000, 1000, 50, 20, 10, 8, 10, 10, 8, 6, 5, 5, 8, 10, 8, 6,
     3, 1, 0.3, -0.5, -1, -2, 1, 5, -1, -3, -4, -5, -5, -6, -6, -6,
     -7, -7, -7, -7, -7, -7, -8, -7, -6, -7, -7, -8, -8, -8, -8, -8, -8, -8, -8],
    [1000, 300, 20, 100, 100, 80, 60, 300, -50, -20, 5, 2, 0.5, -3, -10, -20,
     -30, -5, 0.5, -3, 1, -8, -5, 5, 2, 1, 0.5, -1, -3, -2, -5, -4,
     -2, 0.3, 0.5, 0.3, -0.5, -2, -5, -6, -5, 2, 1, 0.8, 0.6, 0.5, 0.5, 0.3, 0.5, -4, -5],
    [1000, 2000, 10, 300, 3000, 8000, 10000, 1000, 300, 100, 10, 8, 20, 50, 30, 20,
     15, 5, 1, 0.3, 0.5, 0.8, -0.5, -1.5, 1, 0.5, -1, -1.5, -3, -5, -6, -5,
     -5, -5, -6, -6, -6, -6, -6, -6, -5, -6, -6, -6, -6, -6, -7, -6, -6, -6, -5],
]
over_e = [
    [1.8, 35, 15, 2, 1.5, 1.5, 1.6, 2.5, 1.0, 1.1, 1.3, 1.3, 1.5, 1.5, 2, 2.3,
     1.0, 1.2, 1.3, 1.4, 1.5, 1.6, 1.6, 1.6, 1.0, 1.2, 1.25, 1.2, 1.25, 1.3, 1.35, 1.4,
     1.0, 1.1, 1.1, 1.15, 1.2, 1.2, 1.25, 1.3, 0.9, 1.0, 1.05, 1.1, 1.15, 1.2, 1.2, 1.25, 1.25, 1.25, 1.3],
    [2, 28, 10, 3, 1.5, 1.3, 1.2, 1.1, 0.9, 1.0, 1.1, 1.2, 1.4, 1.6, 2.5, 2.8,
     0.9, 1.15, 1.25, 1.35, 1.35, 1.3, 1.35, 1.4, 1.0, 1.15, 1.2, 1.25, 1.25, 1.3, 1.3, 1.35,
     1.0, 1.1, 1.15, 1.2, 1.2, 1.25, 1.25, 1.3, 0.95, 1.05, 1.1, 1.15, 1.2, 1.2, 1.25, 1.3, 1.3, 1.3, 1.3],
    [2, 30, 8, 5, 2.5, 1.5, 1.3, 1.2, 1.0, 1.1, 1.2, 1.3, 1.4, 1.5, 2, 2,
     1.0, 1.2, 1.3, 1.4, 1.5, 1.5, 1.55, 1.6, 1.0, 1.15, 1.2, 1.2, 1.25, 1.3, 1.3, 1.35,
     1.0, 1.1, 1.15, 1.2, 1.2, 1.25, 1.25, 1.3, 0.95, 1.05, 1.1, 1.15, 1.2, 1.2, 1.25, 1.25, 1.25, 1.2, 1.2],
    [2, 25, 10, 7, 7.5, 8, 8, 6.5, 1.0, 1.05, 1.5, 2.5, 4, 5.5, 5.5, 4.5,
     1.0, 1.1, 1.2, 2, 3, 3.5, 3.5, 3.5, 1.0, 1.05, 1.1, 1.2, 1.5, 2.2, 2.5, 2.5,
     1.0, 1.0, 1.0, 1.05, 1.1, 1.2, 1.8, 1.3, 1.0, 1.0, 1.0, 1.05, 1.1, 1.2, 1.3, 1.35, 1.35, 1.35, 1.35],
    [2, 25, 8, 3, 2, 1.8, 1.3, 1.2, 0.9, 1.1, 1.2, 1.3, 1.5, 1.8, 2.3, 2.5,
     0.95, 1.2, 1.3, 1.4, 1.35, 1.4, 1.35, 1.4, 1.05, 1.15, 1.2, 1.25, 1.25, 1.3, 1.3, 1.35,
     1.0, 1.1, 1.15, 1.2, 1.25, 1.25, 1.3, 1.3, 0.95, 1.05, 1.1, 1.15, 1.2, 1.25, 1.3, 1.3, 1.3, 1.35, 1.35],
]

# band half widths (absolute for linear panels, relative for log / symlog panels)
perf_bands = [[15, 8, 8, 12, 12], [25, 20, 20, 20, 20], [25, 20, 15, 25, 20],
              [40, 30, 40, 70, 20], [5, 4, 6, 10, 4]]
pess_bands = [[0.01, 0.003, 0.008, 0.006, 0.03], [0.01, 0.003, 0.005, 0.01, 0.03],
              [0.02, 0.003, 0.005, 0.03, 0.03], [0.03, 0.003, 0.005, 0.03, 0.03],
              [0.02, 0.003, 0.02, 0.08, 0.02]]
err_band = [0.2, 0.2, 0.2, 0.2, 0.2]
over_band = [0.12, 0.15, 0.12, 0.12, 0.12]

rows = [
    (perf_a, pess_a, err_a, over_a),
    (perf_b, pess_b, err_b, over_b),
    (perf_c, pess_c, err_c, over_c),
    (perf_d, pess_d, err_d, over_d),
    (perf_e, pess_e, err_e, over_e),
]
perf_ticks = [[0, 100, 200, 300], [200, 400, 600], [0, 100, 200, 300, 400],
              [0, 200, 400, 600, 800, 1000], [0, 50, 100, 150, 200]]
pess_ticks = [[0, 0.2, 0.4, 0.6, 0.8, 1.0], [0, 0.5, 1.0, 1.5, 2.0], [0, 0.5, 1.0, 1.5, 2.0],
              [0, 0.5, 1.0, 1.5], [0, 1, 2, 3, 4]]


def draw(ax, series, band, kind):
    x = np.array(steps)
    for vals, b, c in zip(series, band, colors):
        y = np.array(vals, dtype=float)
        if kind == 'lin':
            lo, hi = y - b, y + b
        elif kind == 'log':
            lo, hi = y / (1 + b), y * (1 + b)
        else:
            lo, hi = y - b * np.abs(y), y + b * np.abs(y)
        ax.fill_between(x, lo, hi, color=c, alpha=0.2, lw=0)
        ax.plot(x, y, color=c, lw=1.3)


W, H = 1039, 1204
fig = plt.figure(figsize=(W / 100, H / 100), dpi=100)

col_left = [28, 290, 559, 818]
col_width = [217, 218, 211, 217]
row_top = [56, 294, 533, 771, 1009]
ax_h = 138
cap_y = [237, 475, 713, 951, 1190]

for r, panels in enumerate(rows):
    for c, series in enumerate(panels):
        ax = fig.add_axes([col_left[c] / W, 1 - (row_top[r] + ax_h) / H, col_width[c] / W, ax_h / H])
        if c == 0:
            draw(ax, series, perf_bands[r], 'lin')
            ax.set_yticks(perf_ticks[r])
        elif c == 1:
            draw(ax, series, pess_bands[r], 'lin')
            ax.set_yticks(pess_ticks[r])
        elif c == 2:
            ax.set_yscale('symlog')
            draw(ax, series, err_band, 'sym')
        else:
            ax.set_yscale('log')
            draw(ax, series, over_band, 'log')
            ax.yaxis.set_minor_formatter(NullFormatter())
        ax.set_xticks([0, 200, 400, 600, 800, 1000])
        ax.set_title(titles[c], fontsize=8.5, family='Liberation Serif', pad=3, color='#222222')
        ax.grid(True, color='#efefef', lw=0.8)
        ax.set_axisbelow(True)
        for s in ['top', 'right']:
            ax.spines[s].set_visible(False)
        for s in ['left', 'bottom']:
            ax.spines[s].set_position(('outward', 3))
            ax.spines[s].set_color('#444444')
            ax.spines[s].set_linewidth(1.2)
        ax.tick_params(which='both', length=0, labelsize=7, colors='#333333', pad=2)
    fig.text(0.5, 1 - cap_y[r] / H, captions[r], ha='center', va='center',
             fontsize=16.5, family='Liberation Serif')

handles = [Patch(facecolor=matplotlib.colors.to_rgba(c, 0.68), edgecolor=c, lw=1.5) for c in colors]
fig.legend(handles, methods, loc='upper center', bbox_to_anchor=(0.5, 1 - 2 / H), ncol=5,
           fontsize=15.3, frameon=True, fancybox=True, handlelength=2.0, handleheight=1.0,
           handletextpad=0.8, columnspacing=2.0, borderpad=0.38, borderaxespad=0.0,
           edgecolor='#cccccc')

fig.savefig('out.png', dpi=100)
